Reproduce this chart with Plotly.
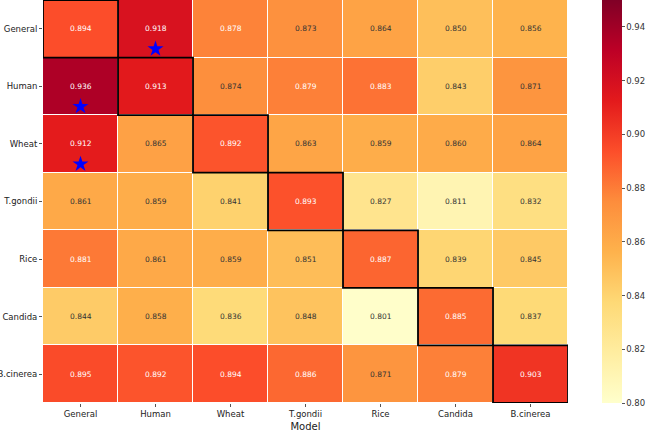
import plotly.graph_objects as go
import plotly.colors as pc

models = ["General", "Human", "Wheat", "T.gondii", "Rice", "Candida", "B.cinerea"]
datasets = ["General", "Human", "Wheat", "T.gondii", "Rice", "Candida", "B.cinerea"]

values = [
    [0.894, 0.918, 0.878, 0.873, 0.864, 0.850, 0.856],
    [0.936, 0.913, 0.874, 0.879, 0.883, 0.843, 0.871],
    [0.912, 0.865, 0.892, 0.863, 0.859, 0.860, 0.864],
    [0.861, 0.859, 0.841, 0.893, 0.827, 0.811, 0.832],
    [0.881, 0.861, 0.859, 0.851, 0.887, 0.839, 0.845],
    [0.844, 0.858, 0.836, 0.848, 0.801, 0.885, 0.837],
    [0.895, 0.892, 0.894, 0.886, 0.871, 0.879, 0.903],
]

# stars: (dataset row, model column)
star_rows = ["General", "Human", "Wheat"]
star_cols = ["Human", "General", "General"]

zmin, zmax = 0.80, 0.95
colors = pc.sequential.YlOrRd
n = len(colors)
colorscale = [[i / (n - 1), c] for i, c in enumerate(colors)]

fig = go.Figure()
fig.add_trace(go.Heatmap(
    z=values, x=models, y=datasets,
    zmin=zmin, zmax=zmax, colorscale=colorscale,
    xgap=1, ygap=1,
    hoverinfo="skip",
    colorbar=dict(
        thickness=20, thicknessmode="pixels",
        len=1, lenmode="fraction",
        x=1.065, xanchor="left", y=0.5, yanchor="middle",
        xpad=0, ypad=0,
        outlinewidth=0,
        tickvals=[0.80, 0.82, 0.84, 0.86, 0.88, 0.90, 0.92, 0.94],
        ticktext=["0.80", "0.82", "0.84", "0.86", "0.88", "0.90", "0.92", "0.94"],
        ticks="outside", ticklen=3, tickcolor="#555",
        tickfont=dict(family="DejaVu Sans", size=8.5, color="#333"),
        title=dict(text="AUROC", side="right",
                   font=dict(family="DejaVu Sans", size=10, color="#333")),
    ),
))

thr = (zmin + zmax) / 2
annotations = []
for i, row in enumerate(values):
    for j, v in enumerate(row):
        annotations.append(dict(
            x=models[j], y=datasets[i], xref="x", yref="y",
            text=f"{v:.3f}", showarrow=False,
            font=dict(family="DejaVu Sans", size=7.5,
                      color="white" if v > thr else "#333333"),
        ))

shapes = []
for k in range(len(models)):
    shapes.append(dict(
        type="rect", xref="x", yref="y",
        x0=k - 0.5, x1=k + 0.5, y0=k - 0.5, y1=k + 0.5,
        line=dict(color="black", width=1.8), fillcolor="rgba(0,0,0,0)",
    ))

fig.add_trace(go.Scatter(
    x=[models.index(c) for c in star_cols],
    y=[datasets.index(r) + 0.35 for r in star_rows],
    mode="markers",
    marker=dict(symbol="star", size=12, color="blue", line=dict(width=0)),
    hoverinfo="skip", showlegend=False, xaxis="x2", yaxis="y2",
))

fig.update_layout(
    width=646, height=433,
    margin=dict(l=43, r=78, t=0, b=30, autoexpand=False),
    paper_bgcolor="white", plot_bgcolor="white",
    annotations=annotations, shapes=shapes,
    xaxis=dict(
        title=dict(text="Model", font=dict(family="DejaVu Sans", size=10, color="#222"), standoff=4),
        tickfont=dict(family="DejaVu Sans", size=8.5, color="#222"),
        ticks="outside", ticklen=3, tickcolor="#555",
        showgrid=False, zeroline=False, showline=False,
        range=[-0.5, 6.5], automargin=False,
    ),
    yaxis=dict(
        tickfont=dict(family="DejaVu Sans", size=8.5, color="#222"),
        ticks="outside", ticklen=3, tickcolor="#555",
        showgrid=False, zeroline=False, showline=False,
        range=[6.5, -0.5], automargin=False,
    ),
    xaxis2=dict(overlaying="x", range=[-0.5, 6.5], visible=False),
    yaxis2=dict(overlaying="y", range=[6.5, -0.5], visible=False),
    showlegend=False,
)

fig.write_html("out.html")
